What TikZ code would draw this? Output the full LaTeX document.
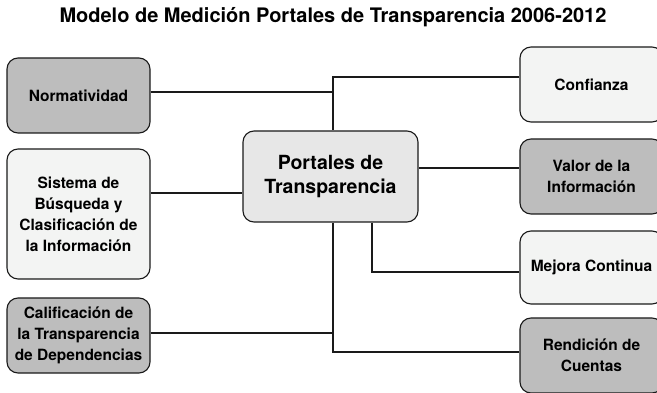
\documentclass[tikz,border=0pt]{standalone}
\usepackage{fontspec}
\setmainfont{TeX Gyre Heros}
\definecolor{boxdark}{HTML}{BDBDBD}
\definecolor{boxlight}{HTML}{F3F4F3}
\definecolor{ptlfill}{HTML}{E7E7E7}
\definecolor{edge}{HTML}{1A1A1A}
\begin{document}
\begin{tikzpicture}[x=1pt,y=-1pt,
  box/.style={draw=edge, line width=1.1pt, rounded corners=11pt, align=center,
    font=\bfseries\fontsize{15.5}{21}\selectfont, inner sep=0pt,
    minimum width=143, minimum height=75},
  dark/.style={box, fill=boxdark},
  light/.style={box, fill=boxlight},
  conn/.style={draw=edge, line width=1.1pt}]
\useasboundingbox (0,0) rectangle (657,393);
\clip (0,0) rectangle (657,393);
\node[font=\bfseries\fontsize{20}{23}\selectfont] (title) at (333,17) {Modelo de Medición Portales de Transparencia 2006-2012};
\node[dark] (norm) at (78.5,95.5) {Normatividad};
\node[light, minimum height=130] (sis) at (78.5,214) {Sistema de\\Búsqueda y\\Clasificación de\\la Información};
\node[dark] (cal) at (78.5,335.5) {Calificación de\\la Transparencia\\de Dependencias};
\node[box, fill=ptlfill, minimum width=175, minimum height=91, font=\bfseries\fontsize{19.5}{24}\selectfont] (ptl) at (330.5,176.5) {Portales de\\Transparencia};
\node[light] (conf) at (591.5,84.5) {Confianza};
\node[dark] (val) at (591.5,176.5) {Valor de la\\Información};
\node[light, minimum height=73] (mej) at (591.5,267.5) {Mejora Continua};
\node[dark] (ren) at (591.5,355.5) {Rendición de\\Cuentas};
\coordinate (ta) at (333,77);
\coordinate (tb) at (333,92);
\coordinate (tc) at (333,333);
\coordinate (td) at (333,352);
\coordinate (ma) at (372,272);
\coordinate (sy) at (0,193);
\coordinate (vy) at (0,168);
\draw[conn] (conf.west |- ta) -- (ta) -- (ta |- ptl.north);
\draw[conn] (norm.east |- tb) -- (tb);
\draw[conn] (sis.east |- sy) -- (ptl.west |- sy);
\draw[conn] (ptl.east |- vy) -- (val.west |- vy);
\draw[conn] (ptl.south -| ta) -- (td) -- (ren.west |- td);
\draw[conn] (cal.east |- tc) -- (tc);
\draw[conn] (ptl.south -| ma) -- (ma) -- (mej.west |- ma);
\end{tikzpicture}
\end{document}
